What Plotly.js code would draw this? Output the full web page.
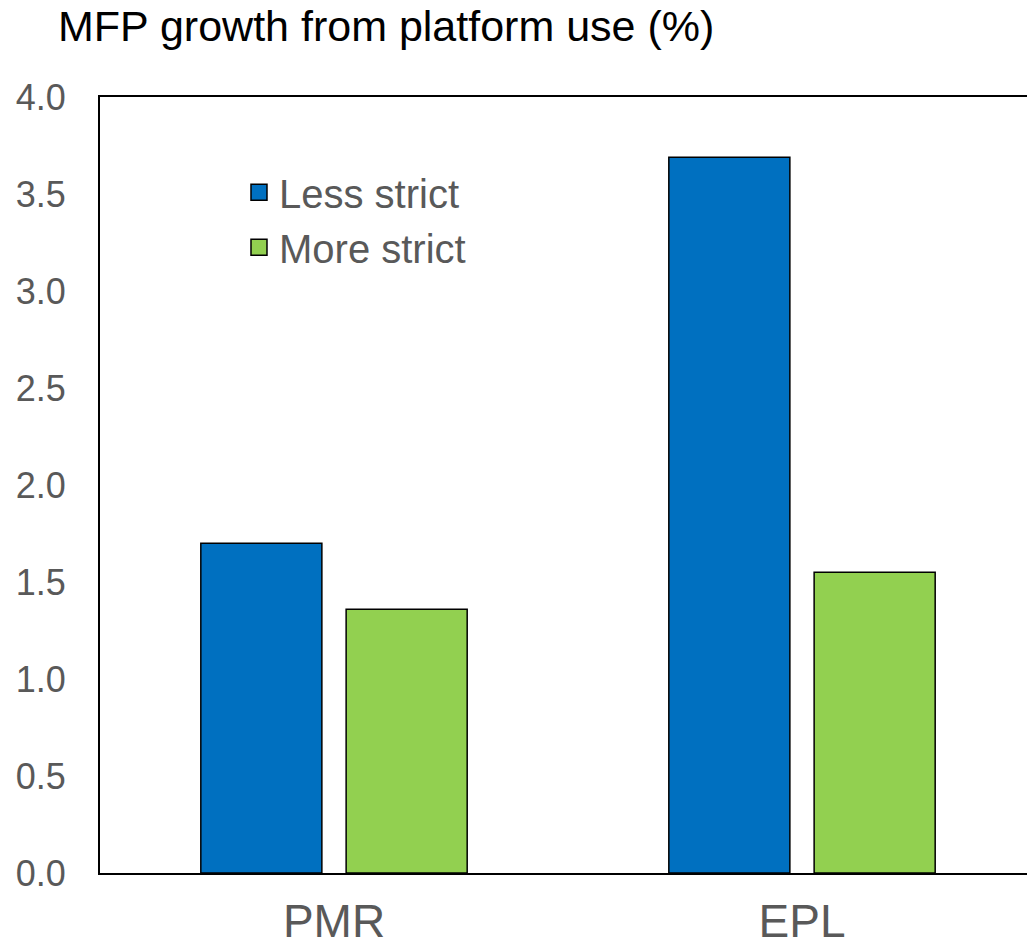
<!DOCTYPE html>
<html>
<head>
<meta charset="utf-8">
<script src="https://cdn.plot.ly/plotly-3.0.1.min.js"></script>
<style>
html,body{margin:0;padding:0;overflow:hidden;background:#fff;}
#chart{width:1036px;height:950px;}
</style>
</head>
<body>
<div id="chart"></div>
<script>
const categories = ["PMR", "EPL"];
const lessStrict = [1.70, 3.69];
const moreStrict = [1.36, 1.55];
const seriesNames = ["Less strict", "More strict"];
const yTicks = [0, 0.5, 1, 1.5, 2, 2.5, 3, 3.5, 4];
const yTickLabels = ["0.0", "0.5", "1.0", "1.5", "2.0", "2.5", "3.0", "3.5", "4.0"];

const blue = "#0070C0";
const green = "#92D050";
const grey = "#595959";
const FONT = "Liberation Sans, Arial, sans-serif";

const traces = [
  {type: "bar", x: categories, y: lessStrict, name: seriesNames[0], showlegend: false,
   marker: {color: blue, line: {color: "#000", width: 1.5}}, hoverinfo: "y"},
  {type: "bar", x: categories, y: moreStrict, name: seriesNames[1], showlegend: false,
   marker: {color: green, line: {color: "#000", width: 1.5}}, hoverinfo: "y"},
  {type: "scatter", mode: "markers", x: [null], y: [null], name: seriesNames[0], legendgroup: "a",
   marker: {symbol: "square", size: 22, color: blue, line: {color: "#000", width: 1.5}}},
  {type: "scatter", mode: "markers", x: [null], y: [null], name: seriesNames[1], legendgroup: "b",
   marker: {symbol: "square", size: 22, color: green, line: {color: "#000", width: 1.5}}}
];

const layout = {
  width: 1036, height: 950,
  margin: {l: 100, r: 0, t: 97, b: 77, pad: 0},
  paper_bgcolor: "#fff", plot_bgcolor: "#fff",
  font: {family: FONT, color: grey},
  title: {text: "MFP growth from platform use (%)", font: {family: FONT, size: 43, color: "#000"},
          x: 58/1036, xref: "container", xanchor: "left", y: 1 - 26/950, yref: "container", yanchor: "middle"},
  barmode: "group", bargap: 0.379, bargroupgap: 0.167,
  xaxis: {type: "category", range: [-0.5, 1.5], showgrid: false, zeroline: false,
          showline: true, linecolor: "#000", linewidth: 2, mirror: true, ticks: "",
          tickfont: {family: FONT, size: 46, color: grey}, ticklabelstandoff: 7, fixedrange: true},
  yaxis: {range: [0, 4], tickvals: yTicks, ticktext: yTickLabels, showgrid: false, zeroline: false,
          showline: true, linecolor: "#000", linewidth: 2, mirror: true, ticks: "",
          tickfont: {family: FONT, size: 36, color: grey}, ticklabelstandoff: 25, fixedrange: true},
  legend: {x: 0.1485, y: 0.919, xanchor: "left", yanchor: "top", bgcolor: "rgba(0,0,0,0)",
           font: {family: FONT, size: 40, color: grey}, tracegroupgap: 15, traceorder: "normal"},
  showlegend: true
};

Plotly.newPlot("chart", traces, layout, {displayModeBar: false, staticPlot: true});
</script>
</body>
</html>
